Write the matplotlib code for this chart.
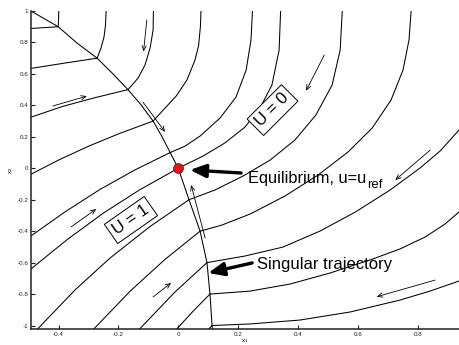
import matplotlib.pyplot as plt

plt.rcParams['font.family'] = ['Liberation Sans', 'DejaVu Sans']
plt.rcParams['mathtext.default'] = 'regular'

# switching curve (upper part + singular trajectory)
sw_x1 = [-0.492, -0.401, -0.338, -0.271, -0.218, -0.168, -0.125, -0.084, -0.054, -0.027, 0.0,
         0.036, 0.073, 0.096, 0.106, 0.113, 0.114]
sw_x2 = [1.0, 0.9, 0.796, 0.7, 0.6, 0.5, 0.405, 0.3, 0.2, 0.1, 0.0,
         -0.2, -0.4, -0.6, -0.8, -1.0, -1.022]

# trajectories with U = 1 (left of the switching curve)
u1a_x1 = [-0.492, -0.401]
u1a_x2 = [0.889, 0.9]
u1b_x1 = [-0.492, -0.382, -0.271]
u1b_x2 = [0.635, 0.668, 0.7]
u1c_x1 = [-0.492, -0.385, -0.278, -0.168]
u1c_x2 = [0.325, 0.394, 0.449, 0.5]
u1d_x1 = [-0.492, -0.396, -0.295, -0.194, -0.084]
u1d_x2 = [-0.038, 0.056, 0.144, 0.223, 0.3]
u1e_x1 = [-0.492, -0.378, -0.261, -0.144, -0.027]
u1e_x2 = [-0.430, -0.277, -0.134, -0.010, 0.1]
u1f_x1 = [-0.492, -0.372, -0.251, -0.128, 0.0]
u1f_x2 = [-0.640, -0.455, -0.286, -0.136, 0.0]
u1g_x1 = [-0.470, -0.345, -0.228, -0.094, 0.036]
u1g_x2 = [-1.022, -0.774, -0.571, -0.370, -0.2]
u1h_x1 = [-0.282, -0.161, -0.044, 0.073]
u1h_x2 = [-1.022, -0.782, -0.579, -0.4]
u1i_x1 = [-0.129, -0.011, 0.096]
u1i_x2 = [-1.022, -0.787, -0.6]
u1j_x1 = [-0.005, 0.049, 0.106]
u1j_x2 = [-1.022, -0.910, -0.8]
u1k_x1 = [0.102, 0.113]
u1k_x2 = [-1.022, -1.0]

# trajectories with U = 0 (right of the switching curve)
u0a_x1 = [-0.399, -0.400, -0.401]
u0a_x2 = [1.0, 0.948, 0.9]
u0b_x1 = [-0.241, -0.243, -0.248, -0.258, -0.271]
u0b_x2 = [1.0, 0.911, 0.835, 0.765, 0.7]
u0c_x1 = [-0.083, -0.084, -0.094, -0.111, -0.134, -0.168]
u0c_x2 = [1.0, 0.879, 0.765, 0.657, 0.574, 0.5]
u0d_x1 = [0.076, 0.074, 0.068, 0.056, 0.029, -0.007, -0.044, -0.084]
u0d_x2 = [1.0, 0.900, 0.780, 0.688, 0.561, 0.459, 0.383, 0.3]
u0e_x1 = [0.248, 0.243, 0.227, 0.193, 0.140, 0.073, 0.023, -0.027]
u0e_x2 = [1.0, 0.816, 0.625, 0.453, 0.320, 0.205, 0.141, 0.1]
u0f_x1 = [0.342, 0.337, 0.313, 0.273, 0.223, 0.156, 0.083, 0.0]
u0f_x2 = [1.0, 0.752, 0.529, 0.383, 0.262, 0.161, 0.078, 0.0]
u0g_x1 = [0.548, 0.541, 0.514, 0.460, 0.390, 0.307, 0.217, 0.123, 0.036]
u0g_x2 = [1.0, 0.752, 0.529, 0.339, 0.180, 0.052, -0.049, -0.138, -0.2]
u0h_x1 = [0.778, 0.771, 0.751, 0.711, 0.648, 0.567, 0.467, 0.357, 0.240, 0.146, 0.073]
u0h_x2 = [1.0, 0.816, 0.625, 0.434, 0.256, 0.103, -0.043, -0.176, -0.291, -0.361, -0.4]
u0i_x1 = [0.938, 0.875, 0.808, 0.708, 0.592, 0.474, 0.350, 0.223, 0.096]
u0i_x2 = [0.243, 0.110, 0.002, -0.138, -0.278, -0.399, -0.501, -0.558, -0.6]
u0j_x1 = [0.938, 0.891, 0.825, 0.741, 0.641, 0.507, 0.374, 0.240, 0.106]
u0j_x2 = [-0.278, -0.355, -0.437, -0.513, -0.583, -0.666, -0.736, -0.781, -0.8]
u0k_x1 = [0.938, 0.841, 0.741, 0.574, 0.407, 0.240, 0.113]
u0k_x2 = [-0.717, -0.781, -0.838, -0.914, -0.965, -0.990, -1.0]

# small direction arrows (tail -> head)
arr_tail_x1 = [-0.105, -0.419, -0.358, -0.084, -0.118, 0.090, 0.488, 0.842, 0.858]
arr_tail_x2 = [0.943, 0.396, -0.373, -0.818, 0.421, -0.444, 0.720, 0.116, -0.711]
arr_head_x1 = [-0.116, -0.305, -0.274, -0.024, -0.044, 0.043, 0.427, 0.725, 0.663]
arr_head_x2 = [0.742, 0.459, -0.259, -0.729, 0.231, -0.106, 0.493, -0.075, -0.817]

eq_x1, eq_x2 = 0.0, 0.0

fig = plt.figure(figsize=(4.59, 3.45), dpi=100)
ax = fig.add_axes([0.0675, 0.0464, 0.9325, 0.9217])

curves = [
    (sw_x1, sw_x2),
    (u1a_x1, u1a_x2), (u1b_x1, u1b_x2), (u1c_x1, u1c_x2), (u1d_x1, u1d_x2),
    (u1e_x1, u1e_x2), (u1f_x1, u1f_x2), (u1g_x1, u1g_x2), (u1h_x1, u1h_x2),
    (u1i_x1, u1i_x2), (u1j_x1, u1j_x2), (u1k_x1, u1k_x2),
    (u0a_x1, u0a_x2), (u0b_x1, u0b_x2), (u0c_x1, u0c_x2), (u0d_x1, u0d_x2),
    (u0e_x1, u0e_x2), (u0f_x1, u0f_x2), (u0g_x1, u0g_x2), (u0h_x1, u0h_x2),
    (u0i_x1, u0i_x2), (u0j_x1, u0j_x2), (u0k_x1, u0k_x2),
]
for cx, cy in curves:
    ax.plot(cx, cy, color='k', lw=0.75, solid_joinstyle='round')

for tx, ty, hx, hy in zip(arr_tail_x1, arr_tail_x2, arr_head_x1, arr_head_x2):
    ax.annotate('', xy=(hx, hy), xytext=(tx, ty),
                arrowprops=dict(arrowstyle='->,head_length=0.35,head_width=0.15',
                                lw=0.6, color='k', shrinkA=0, shrinkB=0))

ax.plot([eq_x1], [eq_x2], 'o', ms=7, mfc='#e8141b', mec='#8a0000', mew=0.6, zorder=5)

# labels with thick arrows
big = dict(arrowstyle='-|>,head_length=0.95,head_width=0.4', lw=2.4, color='k',
           shrinkA=0, shrinkB=0)
ax.annotate('', xy=(0.039, -0.011), xytext=(0.210, -0.030), arrowprops=big)
t_eq = ax.text(0.232, -0.096, 'Equilibrium, u=u', fontsize=11.8, va='baseline', ha='left')
ax.annotate('ref', xy=(1, 0), xycoords=t_eq, xytext=(0.6, -1.5), textcoords='offset points',
            fontsize=9.5, va='baseline', ha='left')
ax.annotate('', xy=(0.100, -0.666), xytext=(0.247, -0.602), arrowprops=big)
ax.text(0.262, -0.641, 'Singular trajectory', fontsize=12, va='baseline', ha='left')

boxprops = dict(boxstyle='square,pad=0.25', fc='white', ec='k', lw=0.7)
ax.text(0.315, 0.370, 'U = 0', fontsize=12, rotation=45, ha='center', va='center',
        rotation_mode='anchor', bbox=boxprops)
ax.text(-0.158, -0.329, 'U = 1', fontsize=12, rotation=35, ha='center', va='center',
        rotation_mode='anchor', bbox=boxprops)

ax.set_xlim(-0.492, 0.938)
ax.set_ylim(-1.022, 1.0)
ax.set_xticks([-0.4, -0.2, 0, 0.2, 0.4, 0.6, 0.8])
ax.set_xticklabels(['-0.4', '-0.2', '0', '0.2', '0.4', '0.6', '0.8'])
ax.set_yticks([-1, -0.8, -0.6, -0.4, -0.2, 0, 0.2, 0.4, 0.6, 0.8, 1])
ax.set_yticklabels(['-1', '-0.8', '-0.6', '-0.4', '-0.2', '0', '0.2', '0.4', '0.6', '0.8', '1'])
ax.tick_params(direction='in', length=3, width=0.8, labelsize=4.5, pad=2, colors='#222222')
for s in ['top', 'right']:
    ax.spines[s].set_visible(False)
for s in ['left', 'bottom']:
    ax.spines[s].set_linewidth(1.1)
    ax.spines[s].set_color('#222222')
ax.set_xlabel('x$_1$', fontsize=4.5, labelpad=0)
ax.set_ylabel('x$_2$', fontsize=4.5, labelpad=2)

fig.savefig('out.png', dpi=100)
